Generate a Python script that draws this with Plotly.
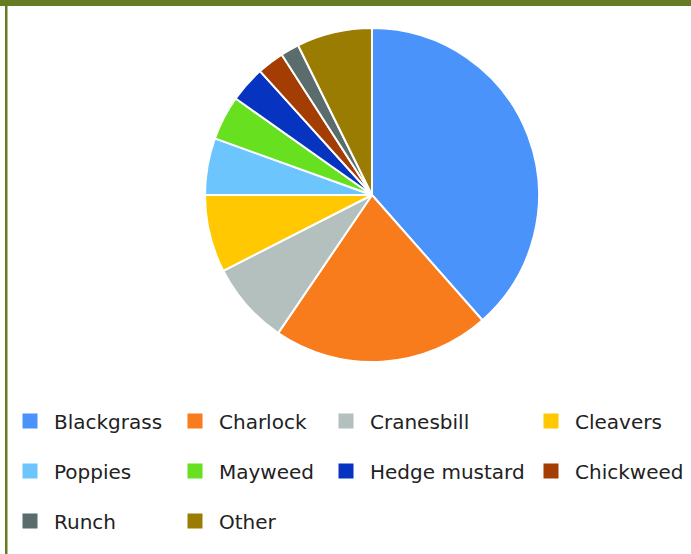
import plotly.graph_objects as go

labels = ["Blackgrass", "Charlock", "Cranesbill", "Cleavers", "Poppies",
          "Mayweed", "Hedge mustard", "Chickweed", "Runch", "Other"]
values = [38.5, 21.0, 8.0, 7.5, 5.5, 4.3, 3.5, 2.6, 1.8, 7.3]
colors = ["#4a93fa", "#f87b1c", "#b3c0bd", "#ffc800", "#6cc6fd",
          "#67e01f", "#0634c0", "#a43d03", "#5b6c6c", "#9a7c03"]

W, H = 691, 554

fig = go.Figure()
fig.add_trace(go.Pie(
    labels=labels, values=values, sort=False, direction="clockwise", rotation=0,
    marker=dict(colors=colors, line=dict(color="white", width=2)),
    textinfo="none", hoverinfo="label+percent", showlegend=False,
    domain=dict(x=[205 / W, 539 / W], y=[1 - 362 / H, 1 - 28 / H]),
))

# legend layout: 4 columns x 3 rows (marker centre x, row centre y in px)
col_x = [30, 195, 346, 551]
row_y = [421, 471, 521]
ITEMW = 38
half = (ITEMW + 10) / 2

layout_legends = {}
for i, (lab, col) in enumerate(zip(labels, colors)):
    key = "legend" if i == 0 else f"legend{i + 1}"
    fig.add_trace(go.Scatter(
        x=[None], y=[None], mode="markers", name=lab,
        marker=dict(symbol="square", size=15, color=col),
        legend=key, showlegend=True, hoverinfo="skip",
    ))
    cx = col_x[i % 4]
    cy = row_y[i // 4]
    layout_legends[key] = dict(
        x=(cx - half) / W, y=1 - cy / H, xanchor="left", yanchor="middle",
        bgcolor="rgba(0,0,0,0)", borderwidth=0, itemwidth=ITEMW,
        font=dict(family="DejaVu Sans", size=20, color="#222222"),
    )

fig.update_layout(
    width=W, height=H,
    margin=dict(l=0, r=0, t=0, b=0),
    paper_bgcolor="white", plot_bgcolor="white",
    xaxis=dict(visible=False), yaxis=dict(visible=False),
    shapes=[
        dict(type="rect", xref="paper", yref="paper", x0=0, x1=1,
             y0=1 - 6 / H, y1=1, fillcolor="#667c22", line=dict(width=0), layer="above"),
        dict(type="rect", xref="paper", yref="paper", x0=5 / W, x1=7.5 / W,
             y0=0, y1=1, fillcolor="#667c22", line=dict(width=0), layer="above"),
    ],
    **layout_legends,
)

fig.write_html("out.html", config={"displayModeBar": False},
               post_script="document.body.style.margin='0';document.body.style.overflow='hidden';")
